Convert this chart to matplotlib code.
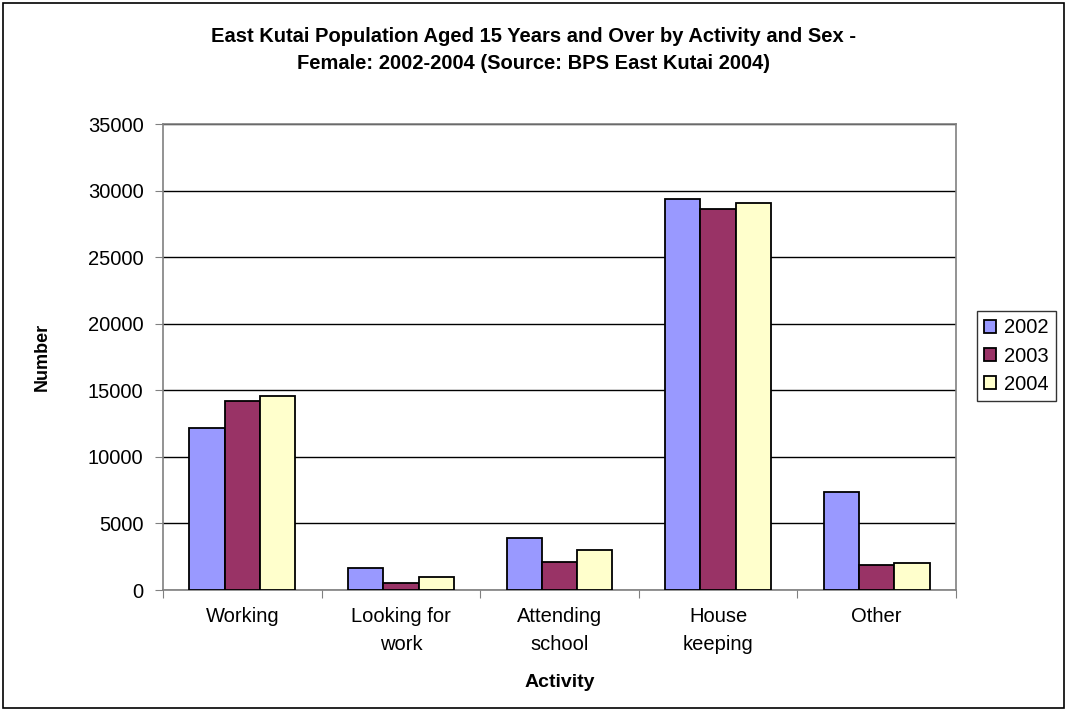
import matplotlib

matplotlib.use("Agg")
import matplotlib.pyplot as plt  # noqa: E402
import numpy as np  # noqa: E402
from matplotlib.patches import Rectangle  # noqa: E402

plt.rcParams["font.family"] = ["Liberation Sans", "DejaVu Sans"]

# 데이터
categories = ["Working", "Looking for\nwork", "Attending\nschool", "House\nkeeping", "Other"]
years = ["2002", "2003", "2004"]
v2002 = [12200, 1625, 3900, 29400, 7370]
v2003 = [14200, 500, 2075, 28650, 1875]
v2004 = [14550, 975, 3000, 29100, 2000]
colors = ["#9999FF", "#993366", "#FFFFCC"]

fig = plt.figure(figsize=(10.67, 7.11), dpi=100)
ax = fig.add_axes([163 / 1067, 1 - 590 / 711, (956 - 163) / 1067, (590 - 124) / 711])

x = np.arange(len(categories))
width = 0.222
for i, (vals, yr) in enumerate(zip([v2002, v2003, v2004], years)):
    ax.bar(x + (i - 1) * width, vals, width, color=colors[i], edgecolor="black",
           linewidth=1.3, label=yr, zorder=3)

ax.set_xlim(-0.5, len(categories) - 0.5)
ax.set_ylim(0, 35000)
ax.set_yticks(np.arange(0, 35001, 5000))
ax.yaxis.grid(True, color="black", linewidth=1)
ax.set_axisbelow(True)

# 카테고리 경계에 눈금
ax.set_xticks(np.arange(-0.5, len(categories) + 0.5, 1.0))
ax.set_xticklabels([])
ax.set_xticks(x, minor=True)
ax.set_xticklabels(categories, minor=True, fontsize=14.5, linespacing=1.65)
ax.tick_params(axis="x", which="minor", length=0, pad=12)
ax.tick_params(axis="x", which="major", length=6, color="#808080")
ax.tick_params(axis="y", length=6, color="#808080", labelsize=14.5, pad=8)

for s in ax.spines.values():
    s.set_color("#808080")
    s.set_linewidth(1.2)

ax.set_ylabel("Number", fontsize=13, fontweight="bold", labelpad=27)
ax.set_xlabel("Activity", fontsize=14, fontweight="bold", labelpad=14)

fig.text(0.5, 1 - 50 / 711,
         "East Kutai Population Aged 15 Years and Over by Activity and Sex -\n"
         "Female: 2002-2004 (Source: BPS East Kutai 2004)",
         ha="center", va="center", fontsize=14.5, fontweight="bold", linespacing=1.5)

leg = ax.legend(loc="center left", bbox_to_anchor=(977 / 1067, 1 - 356 / 711),
                bbox_transform=fig.transFigure, frameon=True, fancybox=False,
                edgecolor="black", fontsize=14.5, handlelength=0.6, handleheight=0.6,
                handletextpad=0.4, borderpad=0.35, labelspacing=0.45, borderaxespad=0)
leg.get_frame().set_linewidth(1)

# 외곽 테두리
fig.patches.append(Rectangle((3 / 1067, 3 / 711), 1 - 6 / 1067, 1 - 6 / 711,
                             transform=fig.transFigure, fill=False,
                             edgecolor="black", linewidth=1.2))

fig.savefig("out.png", dpi=100)
